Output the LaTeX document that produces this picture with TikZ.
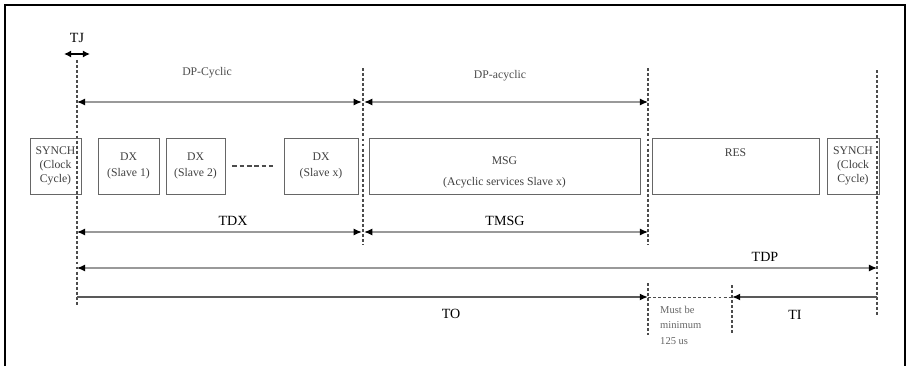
\documentclass[tikz,border=0pt]{standalone}
\usepackage{fontspec}
\setmainfont{Liberation Serif}
\usetikzlibrary{arrows.meta}
\begin{document}
\begin{tikzpicture}[
  x=0.03cm, y=-0.03cm,
  slot/.style={draw=black!60, line width=0.7pt, inner sep=0pt, minimum height=1.68cm, align=center, text=black!75},
  slottext/.style={align=center, text=black!75, inner sep=0pt},
  cutline/.style={draw=black!70, line width=1pt, dash pattern=on 2.5pt off 1.8pt},
  span/.style={draw=black!40, line width=1pt, <->, >={Latex[length=7pt,width=6pt,color=black]}},
  bar/.style={draw=black!65, line width=1.8pt, ->, >={Latex[length=7pt,width=6pt,color=black]}},
  spanlabel/.style={font=\large, text=black},
  toplabel/.style={text=black!70}
]
  \useasboundingbox (0,0) rectangle (909,366);
  \draw[line width=2.5pt] (5,366) -- (5,5) -- (905,5) -- (905,366);

  % time marks
  \coordinate (c0top) at (77,60);  \coordinate (c0bot) at (77,305);
  \coordinate (c1top) at (363,68); \coordinate (c1bot) at (363,245);
  \coordinate (c2top) at (648,68); \coordinate (c2bot) at (648,245);
  \coordinate (c3top) at (877,70); \coordinate (c3bot) at (877,315);
  \coordinate (g0top) at (648,283); \coordinate (g0bot) at (648,335);
  \coordinate (g1top) at (732,285); \coordinate (g1bot) at (732,335);

  \draw[cutline] (c0top) -- (c0bot);
  \draw[cutline] (c1top) -- (c1bot);
  \draw[cutline] (c2top) -- (c2bot);
  \draw[cutline] (c3top) -- (c3bot);
  \draw[cutline] (g0top) -- (g0bot);
  \draw[cutline] (g1top) -- (g1bot);

  % rows
  \coordinate (rowdp) at (0,102);
  \coordinate (rowt) at (0,232);
  \coordinate (rowtdp) at (0,268);
  \coordinate (rowto) at (0,297);

  % TJ
  \coordinate (tja) at (64,54);
  \coordinate (tjb) at (90,54);
  \draw[black, line width=1.3pt, <->, >={Latex[length=6pt,width=6pt]}] (tja) -- (tjb);
  \node[spanlabel] (tj) at (77,38) {TJ};

  % slots
  \node[slot, minimum width=1.53cm] (synchA) at (55.5,166) {SYNCH\\(Clock\\Cycle)};
  \node[slot, minimum width=1.83cm] (dxa) at (128.5,166) {DX\\[2pt](Slave 1)};
  \node[slot, minimum width=1.77cm] (dxb) at (195.5,166) {DX\\[2pt](Slave 2)};
  \node[slot, minimum width=2.22cm] (dxx) at (321,166) {DX\\[2pt](Slave x)};
  \node[slot, minimum width=8.13cm] (msg) at (504.5,166) {};
  \node[slottext] (msgtext) at (504.5,172) {MSG\\[6pt](Acyclic services Slave x)};
  \node[slot, minimum width=5.01cm] (res) at (735.5,166) {};
  \node[slottext] (restext) at (735.5,153) {RES};
  \node[slot, minimum width=1.56cm] (synchB) at (853,166) {SYNCH\\(Clock\\Cycle)};
  \draw[black!70, line width=1pt, dash pattern=on 4pt off 2.2pt] ([xshift=6pt]dxb.east) -- ([xshift=-7pt]dxx.west);

  % spans
  \draw[span] (c0top |- rowdp) -- ([xshift=-1pt]c1top |- rowdp);
  \draw[span] ([xshift=1pt]c1top |- rowdp) -- (c2top |- rowdp);
  \node[toplabel] (cyclic) at (207,73) {DP-Cyclic};
  \node[toplabel] (acyclic) at (500,76) {DP-acyclic};

  \draw[span] (c0top |- rowt) -- ([xshift=-1pt]c1top |- rowt);
  \draw[span] ([xshift=1pt]c1top |- rowt) -- (c2top |- rowt);
  \node[spanlabel] (tdx) at (233,221) {TDX};
  \node[spanlabel] (tmsg) at (505,221) {TMSG};

  \draw[span] (c0top |- rowtdp) -- (c3top |- rowtdp);
  \node[spanlabel] (tdp) at (765,257) {TDP};

  \draw[bar] (c0top |- rowto) -- (g0top |- rowto);
  \draw[black!70, line width=0.8pt, dash pattern=on 2.5pt off 1.8pt] (g0top |- rowto) -- (g1top |- rowto);
  \draw[bar] (c3top |- rowto) -- (g1top |- rowto);
  \node[spanlabel] (to) at (451,314) {TO};
  \node[spanlabel] (ti) at (795,315) {TI};

  \node[anchor=north west, align=left, font=\fontsize{9}{13}\selectfont, text=black!60, inner sep=0pt] (minnote) at (660,306)
    {Must be\\minimum\\125 us};
\end{tikzpicture}
\end{document}
